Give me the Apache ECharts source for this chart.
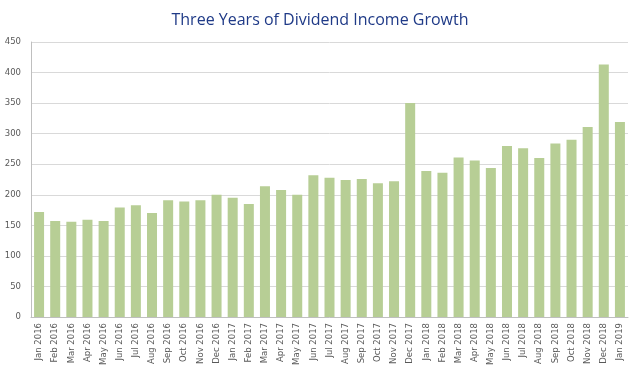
<!DOCTYPE html>
<html><head><meta charset="utf-8">
<script src="https://cdn.jsdelivr.net/npm/echarts@6/dist/echarts.min.js"></script>
<style>html,body{margin:0;padding:0;background:#fff}#c{width:640px;height:372px}</style>
</head><body><div id="c"></div>
<script>
const categories = ["Jan 2016","Feb 2016","Mar 2016","Apr 2016","May 2016","Jun 2016","Jul 2016","Aug 2016","Sep 2016","Oct 2016","Nov 2016","Dec 2016",
"Jan 2017","Feb 2017","Mar 2017","Apr 2017","May 2017","Jun 2017","Jul 2017","Aug 2017","Sep 2017","Oct 2017","Nov 2017","Dec 2017",
"Jan 2018","Feb 2018","Mar 2018","Apr 2018","May 2018","Jun 2018","Jul 2018","Aug 2018","Sep 2018","Oct 2018","Nov 2018","Dec 2018","Jan 2019"];
const dividendIncome = [172,157,156,159,157,179,183,170,191,189,191,200,
195,185,214,208,200,232,228,224,226,219,222,350,
239,236,261,256,244,280,276,260,284,290,311,413,319];
const yTicks = {min:0,max:450,interval:50};
const chart = echarts.init(document.getElementById('c'));
chart.setOption({
  animation:false,
  title:{text:"Three Years of Dividend Income Growth",left:'center',top:7,
    textStyle:{fontFamily:"Open Sans",fontSize:16,fontWeight:'normal',color:'#1F3A87'}},
  grid:{left:31,right:12,top:42,bottom:55,containLabel:false},
  xAxis:{type:'category',data:categories,
    axisLine:{show:true,lineStyle:{color:'#BFBFBF'}},
    axisTick:{show:false},
    axisLabel:{rotate:90,interval:0,fontFamily:"DejaVu Sans",fontSize:8.5,color:'#595959',margin:6}},
  yAxis:{type:'value',min:yTicks.min,max:yTicks.max,interval:yTicks.interval,
    axisLine:{show:true,lineStyle:{color:'#BFBFBF'}},
    axisTick:{show:false},
    splitLine:{lineStyle:{color:'#D9D9D9',width:1}},
    axisLabel:{fontFamily:"DejaVu Sans",fontSize:8.5,color:'#595959',margin:10}},
  series:[{type:'bar',data:dividendIncome,barCategoryGap:'38%',
    itemStyle:{color:'#B7CE95'}}]
});
</script></body></html>
